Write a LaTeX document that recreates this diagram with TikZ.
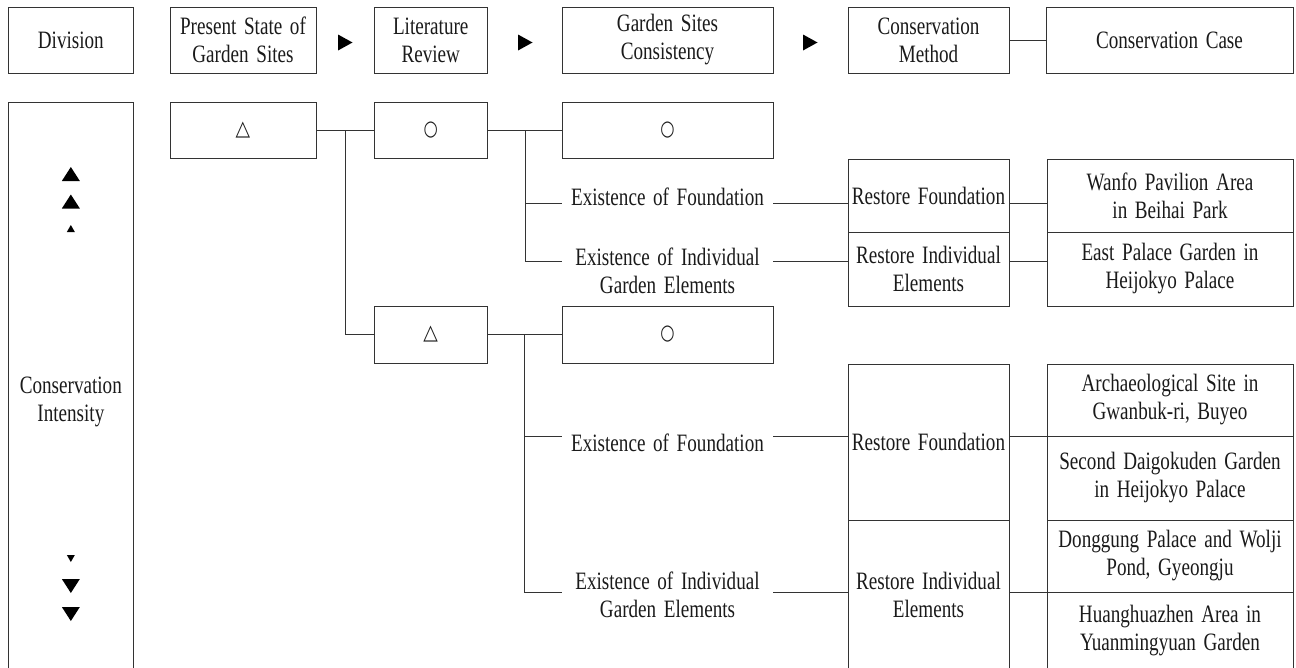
\documentclass[tikz,border=0pt]{standalone}
\usepackage{fontspec}
\setmainfont{Liberation Serif}[FakeStretch=0.765,WordSpace=1.6]
\newfontfamily\symf{DejaVu Sans}[FakeStretch=0.9]
\newfontfamily\circf{DejaVu Sans}[FakeStretch=0.78]
\usetikzlibrary{calc}
\definecolor{linec}{HTML}{333333}
\definecolor{txtc}{HTML}{1A1A1A}
\begin{document}
\begin{tikzpicture}[x=1pt,y=-1pt,
  txt/.style={inner sep=0pt, align=center, text=txtc, font=\fontsize{25}{28}\selectfont},
  box/.style={txt, draw=linec, line width=0.9pt},
  conn/.style={draw=linec, line width=0.9pt},
  tri/.style={fill=black},
  symt/.style={font=\symf\fontsize{21}{21}\selectfont},
  symc/.style={font=\circf\fontsize{21}{21}\selectfont}]
\useasboundingbox (0,0) rectangle (1296,667);
% header row
\node[box, minimum width=124.3pt, minimum height=66pt] (div) at (70.85,40) {Division};
\node[box, minimum width=146pt, minimum height=66pt] (pres) at (243,40) {Present State of\\Garden Sites};
\node[box, minimum width=113.5pt, minimum height=66pt] (lit) at (430.75,40) {Literature\\Review};
\node[box, minimum width=211pt, minimum height=66pt] (gsc) at (667.5,40) {Garden Sites\\Consistency};
\node[box, minimum width=161pt, minimum height=66pt] (cm) at (928.5,40) {Conservation\\Method};
\node[box, minimum width=247pt, minimum height=66pt] (cc) at (1169.5,40) {Conservation Case};
\draw[conn] (cm.east) -- (cc.west);
% header arrows
\fill[tri] (338,34.5) -- (352.5,42.5) -- (338,50.5) -- cycle;
\fill[tri] (518,34.5) -- (532.5,42.5) -- (518,50.5) -- cycle;
\fill[tri] (803,34.5) -- (817.5,42.5) -- (803,50.5) -- cycle;
% intensity column
\node[box, minimum width=124.3pt, minimum height=600pt] (int) at (70.85,402) {Conservation\\Intensity};
\fill[tri] (61.85,181) -- (79.85,181) -- (70.85,167) -- cycle;
\fill[tri] (61.85,208.5) -- (79.85,208.5) -- (70.85,194.5) -- cycle;
\fill[tri] (66.85,232) -- (74.85,232) -- (70.85,225) -- cycle;
\fill[tri] (66.85,555) -- (74.85,555) -- (70.85,562) -- cycle;
\fill[tri] (61.85,579) -- (79.85,579) -- (70.85,593) -- cycle;
\fill[tri] (61.85,607) -- (79.85,607) -- (70.85,621) -- cycle;
% row 2
\node[box, symt, minimum width=146pt, minimum height=56pt] (tri1) at (243,130) {△};
\node[box, symc, minimum width=113.5pt, minimum height=56pt] (circ1) at (430.75,130) {○};
\node[box, symc, minimum width=211pt, minimum height=56pt] (circ2) at (667.5,130) {○};
\node[box, symt, minimum width=113.5pt, minimum height=57pt] (tri2) at (430.75,334.5) {△};
\node[box, symc, minimum width=211pt, minimum height=57pt] (circ3) at (667.5,334.5) {○};
% restore boxes
\node[box, minimum width=161pt, minimum height=73pt] (rf1) at (928.5,195.5) {Restore Foundation};
\node[box, minimum width=161pt, minimum height=74pt] (ri1) at (928.5,269) {Restore Individual\\Elements};
\node[box, minimum width=161pt, minimum height=156pt] (rf2) at (928.5,442) {Restore Foundation};
\node[box, minimum width=161pt, minimum height=150pt] (ri2) at (928.5,595) {Restore Individual\\Elements};
% case boxes
\node[box, minimum width=246pt, minimum height=73pt] (c1) at (1170,195.5) {Wanfo Pavilion Area\\in Beihai Park};
\node[box, minimum width=246pt, minimum height=74pt] (c2) at (1170,269) {East Palace Garden in\\Heijokyo Palace};
\node[box, minimum width=246pt, minimum height=72pt] (c3) at (1170,400) {Archaeological Site in\\Gwanbuk-ri, Buyeo};
\node[box, minimum width=246pt, minimum height=84pt] (c4) at (1170,478) {Second Daigokuden Garden\\in Heijokyo Palace};
\node[box, minimum width=246pt, minimum height=72pt] (c5) at (1170,556) {Donggung Palace and Wolji\\Pond, Gyeongju};
\node[box, minimum width=246pt, minimum height=78pt] (c6) at (1170,631) {Huanghuazhen Area in\\Yuanmingyuan Garden};
% branch labels
\node[txt] (ef1) at (667.5,197) {Existence of Foundation};
\node[txt] (ei1) at (667.5,270.5) {Existence of Individual\\Garden Elements};
\node[txt] (ef2) at (667.5,443) {Existence of Foundation};
\node[txt] (ei2) at (667.5,595) {Existence of Individual\\Garden Elements};
% connector coordinates
\coordinate (j1) at ($(tri1.east)!0.5!(circ1.west)$);
\coordinate (j2) at (525,130);
\coordinate (j3) at (524,334.5);
\coordinate (ef1w) at (562,203); \coordinate (ef1e) at (773,203);
\coordinate (ei1w) at (562,261); \coordinate (ei1e) at (773,261);
\coordinate (ef2w) at (562,436); \coordinate (ef2e) at (773,436);
\coordinate (ei2w) at (562,592); \coordinate (ei2e) at (773,592);
% connectors
\draw[conn] (tri1.east) -- (circ1.west);
\draw[conn] (j1) |- (tri2.west);
\draw[conn] (circ1.east) -- (circ2.west);
\draw[conn] (j2) |- (ef1w);
\draw[conn] (j2) |- (ei1w);
\draw[conn] (ef1e) -- (ef1e -| rf1.west);
\draw[conn] (ei1e) -- (ei1e -| ri1.west);
\draw[conn] (rf1.east |- ef1e) -- (c1.west |- ef1e);
\draw[conn] (ri1.east |- ei1e) -- (c2.west |- ei1e);
\draw[conn] (tri2.east) -- (circ3.west);
\draw[conn] (j3) |- (ef2w);
\draw[conn] (j3) |- (ei2w);
\draw[conn] (ef2e) -- (ef2e -| rf2.west);
\draw[conn] (ei2e) -- (ei2e -| ri2.west);
\draw[conn] (rf2.east |- ef2e) -- (c3.west |- ef2e);
\draw[conn] (ri2.east |- ei2e) -- (c5.west |- ei2e);
\end{tikzpicture}
\end{document}
